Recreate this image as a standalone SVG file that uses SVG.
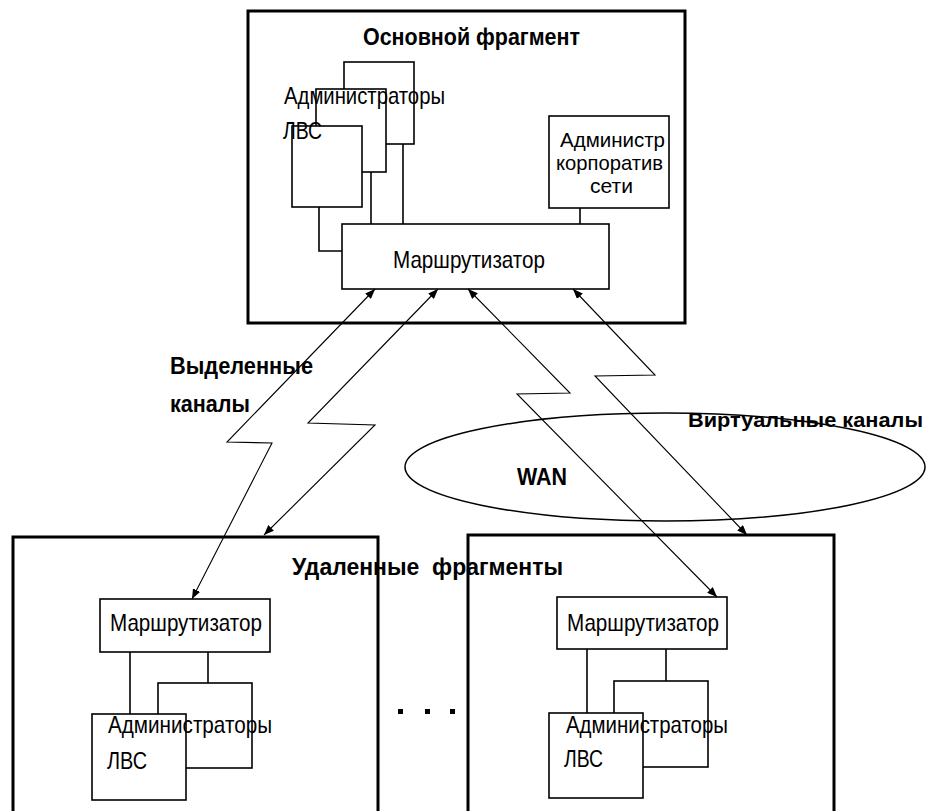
<svg xmlns="http://www.w3.org/2000/svg" width="932" height="811" viewBox="0 0 932 811">
<style>
.frame{fill:#fff;stroke:#000;stroke-width:3}
.box{fill:#fff;stroke:#000;stroke-width:1.6}
.wire{fill:none;stroke:#000;stroke-width:1.6}
.link{fill:none;stroke:#000;stroke-width:1.1}
.t{font-family:"Liberation Sans",Arial,sans-serif;font-size:24px;fill:#000}
.c{font-family:"Liberation Sans",Arial,sans-serif;font-size:21px;fill:#000}
.b{font-family:"Liberation Sans",Arial,sans-serif;font-size:23px;font-weight:bold;fill:#000}
</style>
<defs>
<marker id="arr" viewBox="0 0 10 8" refX="10" refY="4" markerWidth="10" markerHeight="8" markerUnits="userSpaceOnUse" orient="auto-start-reverse">
<path d="M0,0 L10,4 L0,8 z" fill="#000"/>
</marker>
</defs>
<rect width="932" height="811" fill="#fff"/>

<g id="main-fragment">
<rect class="frame" x="248" y="11" width="437" height="312"/>
<text class="b" x="363" y="45" textLength="217" lengthAdjust="spacingAndGlyphs">Основной фрагмент</text>
</g>

<g id="remote-left">
<rect class="frame" x="13" y="537" width="365" height="300"/>
</g>
<g id="remote-right">
<rect class="frame" x="468" y="535" width="366" height="300"/>
</g>

<g id="main-admins">
<rect class="box" x="344" y="62" width="70" height="82"/>
<rect class="box" x="316" y="89" width="70" height="83"/>
<rect class="box" x="292" y="126" width="70" height="81"/>
<text class="t" x="284" y="104" textLength="161" lengthAdjust="spacingAndGlyphs">Администраторы</text>
<text class="t" x="283" y="139" textLength="39" lengthAdjust="spacingAndGlyphs">ЛВС</text>
</g>

<g id="corp-admin">
<rect class="box" x="549" y="116" width="120" height="92"/>
<text class="c" x="560" y="147" textLength="105" lengthAdjust="spacingAndGlyphs">Администр</text>
<text class="c" x="556" y="170" textLength="107" lengthAdjust="spacingAndGlyphs">корпоратив</text>
<text class="c" x="590" y="193" textLength="43" lengthAdjust="spacingAndGlyphs">сети</text>
</g>

<g id="main-router">
<rect class="box" x="342" y="224" width="267" height="65"/>
<text class="t" x="393" y="268" textLength="152" lengthAdjust="spacingAndGlyphs">Маршрутизатор</text>
</g>

<g id="left-router">
<rect class="box" x="100" y="599" width="170" height="53"/>
<text class="t" x="110" y="631" textLength="152" lengthAdjust="spacingAndGlyphs">Маршрутизатор</text>
</g>
<g id="left-admins">
<rect class="box" x="158" y="683" width="94" height="85"/>
<rect class="box" x="92" y="714" width="94" height="86"/>
<text class="t" x="108" y="733" textLength="164" lengthAdjust="spacingAndGlyphs">Администраторы</text>
<text class="t" x="107" y="769" textLength="40" lengthAdjust="spacingAndGlyphs">ЛВС</text>
</g>

<g id="right-router">
<rect class="box" x="557" y="597" width="170" height="52"/>
<text class="t" x="567" y="631" textLength="152" lengthAdjust="spacingAndGlyphs">Маршрутизатор</text>
</g>
<g id="right-admins">
<rect class="box" x="614" y="681" width="94" height="86"/>
<rect class="box" x="549" y="713" width="94" height="85"/>
<text class="t" x="566" y="733" textLength="162" lengthAdjust="spacingAndGlyphs">Администраторы</text>
<text class="t" x="564" y="767" textLength="39" lengthAdjust="spacingAndGlyphs">ЛВС</text>
</g>

<g id="wan">
<ellipse cx="665" cy="467" rx="260" ry="54" fill="none" stroke="#000" stroke-width="1.5"/>
<text class="b" x="517" y="485" textLength="50" lengthAdjust="spacingAndGlyphs">WAN</text>
</g>

<g id="dots">
<rect x="398" y="709" width="5" height="5"/>
<rect x="425" y="709" width="5" height="5"/>
<rect x="450" y="709" width="5" height="5"/>
</g>

<g id="connectors">
<polyline class="wire" points="319,207 319,251 342,251"/>
<line class="wire" x1="371" y1="172" x2="371" y2="224"/>
<line class="wire" x1="403" y1="144" x2="403" y2="224"/>
<line class="wire" x1="580" y1="208" x2="580" y2="224"/>
<line class="wire" x1="130" y1="652" x2="130" y2="714"/>
<line class="wire" x1="208" y1="652" x2="208" y2="683"/>
<line class="wire" x1="587" y1="649" x2="587" y2="713"/>
<line class="wire" x1="666" y1="649" x2="666" y2="681"/>
<polyline class="link" points="375,289 227,442 272,443 192,599" marker-start="url(#arr)" marker-end="url(#arr)"/>
<polyline class="link" points="438,289 308,423 375,425 264,535" marker-start="url(#arr)" marker-end="url(#arr)"/>
<polyline class="link" points="468,289 570,393 517,394 717,597" marker-start="url(#arr)" marker-end="url(#arr)"/>
<polyline class="link" points="573,289 655,375 595,376 747,535" marker-start="url(#arr)" marker-end="url(#arr)"/>
</g>

<g id="labels">
<text class="b" x="170" y="374" textLength="143" lengthAdjust="spacingAndGlyphs">Выделенные</text>
<text class="b" x="170" y="412" textLength="80" lengthAdjust="spacingAndGlyphs">каналы</text>
<text class="b" x="688" y="427" style="font-size:21px" textLength="235" lengthAdjust="spacingAndGlyphs">Виртуальные каналы</text>
<text class="b" x="292" y="575" textLength="271" lengthAdjust="spacingAndGlyphs" xml:space="preserve">Удаленные  фрагменты</text>
</g>
</svg>
